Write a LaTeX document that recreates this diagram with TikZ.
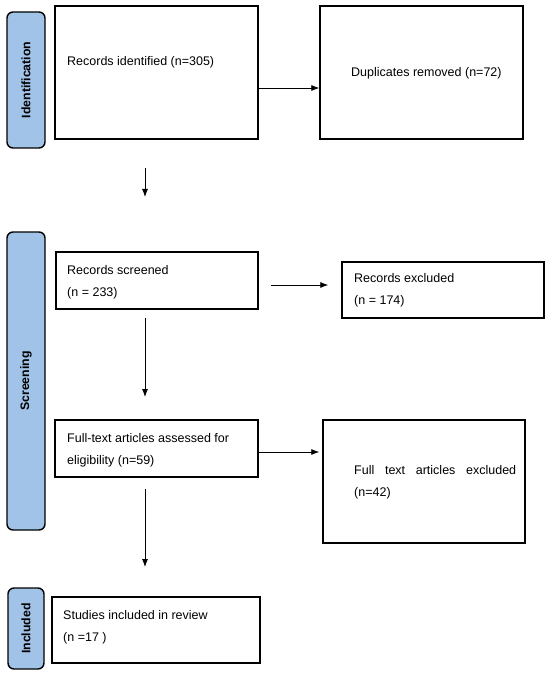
\documentclass[tikz,border=0pt]{standalone}
\usepackage{fontspec}
\setmainfont{Liberation Sans}
\usetikzlibrary{arrows.meta}
\definecolor{labblue}{RGB}{162,195,232}
\begin{document}
\begin{tikzpicture}[x=1pt,y=-1pt,
  box/.style={draw=black, line width=1.4pt, fill=white, inner sep=0pt},
  lab/.style={draw=black, line width=1.4pt, fill=labblue, rounded corners=6pt, rotate=90, inner sep=0pt, font=\fontsize{12.3}{14}\selectfont\bfseries},
  txt/.style={anchor=west, align=left, inner sep=0pt, font=\fontsize{12.5}{22}\selectfont},
  arr/.style={draw=black, line width=0.8pt, -{Latex[length=8pt,width=6pt]}}]
\useasboundingbox (0,0) rectangle (550,676);
% stage labels
\node[lab, minimum width=136pt, minimum height=38pt] (idl) at (26,80) {Identification};
\node[lab, minimum width=298pt, minimum height=38pt] (scl) at (26,381) {Screening};
\node[lab, minimum width=81pt, minimum height=36pt] (inl) at (26,628.5) {Included};
% boxes
\node[box, minimum width=203pt, minimum height=133pt] (rid) at (156.5,72.5) {};
\node[box, minimum width=203pt, minimum height=133pt] (dup) at (421.5,72.5) {};
\node[box, minimum width=202pt, minimum height=57pt] (scr) at (157,280.5) {};
\node[box, minimum width=202pt, minimum height=56pt] (exc) at (443,290) {};
\node[box, minimum width=203pt, minimum height=57pt] (fta) at (156.5,448.5) {};
\node[box, minimum width=202pt, minimum height=123pt] (ftx) at (424,481.5) {};
\node[box, minimum width=208pt, minimum height=66pt] (stu) at (156,630) {};
% texts
\node[txt] (ridt) at (67,62) {Records identified (n=305)};
\node[txt] (dupt) at (351,73) {Duplicates removed (n=72)};
\node[txt] (scrt) at (67,282.5) {Records screened\\(n = 233)};
\node[txt] (exct) at (354,290.5) {Records excluded\\(n = 174)};
\node[txt] (ftat) at (67,450.5) {Full-text articles assessed for\\eligibility (n=59)};
\node[txt] (ftxt) at (354,482.5) {\makebox[162pt][s]{Full text articles excluded}\\(n=42)};
\node[txt] (stut) at (63,627) {Studies included in review\\(n =17 )};
% free arrow ends
\coordinate (d1a) at (145,168);
\coordinate (d1b) at (145,197);
\coordinate (d2a) at (145,318);
\coordinate (d2b) at (145,397);
\coordinate (d3a) at (145,489);
\coordinate (d3b) at (145,567);
% connectors
\draw[arr] (rid.east |- 0,88) -- (dup.west |- 0,88);
\draw[arr, shorten <=12pt, shorten >=13pt] (scr.east |- 0,285) -- (exc.west |- 0,285);
\draw[arr, shorten >=3pt] (fta.east |- 0,452) -- (ftx.west |- 0,452);
\draw[arr] (d1a) -- (d1b);
\draw[arr] (d2a) -- (d2b);
\draw[arr] (d3a) -- (d3b);
\end{tikzpicture}
\end{document}
